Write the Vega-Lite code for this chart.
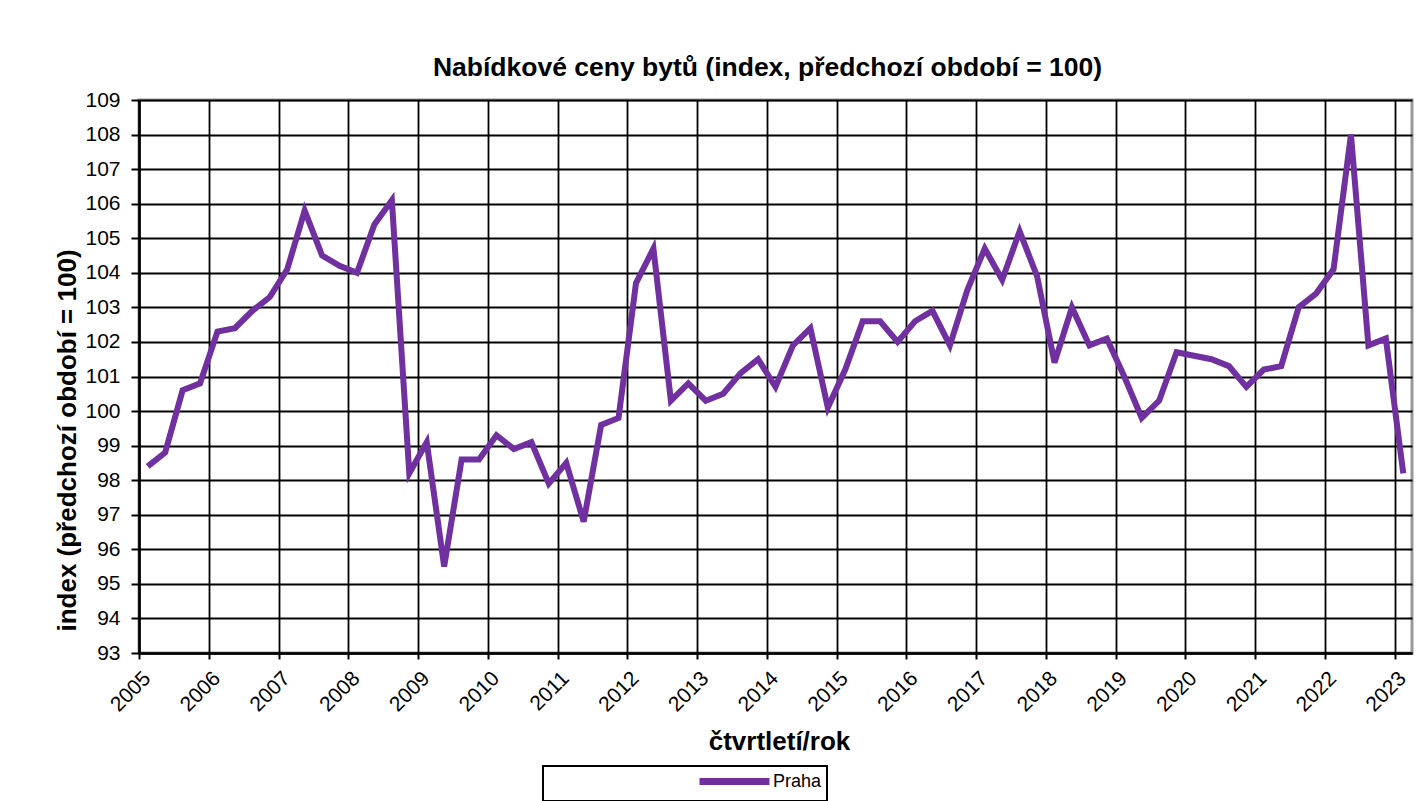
{
  "$schema": "https://vega.github.io/schema/vega-lite/v6.json",
  "width": 1273,
  "height": 553,
  "autosize": {"type": "none"},
  "padding": {"left": 139, "top": 100, "right": 14, "bottom": 148},
  "background": "white",
  "title": {
    "text": "Nabídkové ceny bytů (index, předchozí období = 100)",
    "font": "Liberation Sans",
    "fontSize": 26.5,
    "fontWeight": "bold",
    "color": "#000",
    "anchor": "middle",
    "dx": -8,
    "offset": 8
  },
  "data": {
    "values": [
      {"obdobi": "2005Q1", "t": 2005.125, "index": 98.4},
      {"obdobi": "2005Q2", "t": 2005.375, "index": 98.8},
      {"obdobi": "2005Q3", "t": 2005.625, "index": 100.6},
      {"obdobi": "2005Q4", "t": 2005.875, "index": 100.8},
      {"obdobi": "2006Q1", "t": 2006.125, "index": 102.3},
      {"obdobi": "2006Q2", "t": 2006.375, "index": 102.4},
      {"obdobi": "2006Q3", "t": 2006.625, "index": 102.9},
      {"obdobi": "2006Q4", "t": 2006.875, "index": 103.3},
      {"obdobi": "2007Q1", "t": 2007.125, "index": 104.1},
      {"obdobi": "2007Q2", "t": 2007.375, "index": 105.8},
      {"obdobi": "2007Q3", "t": 2007.625, "index": 104.5},
      {"obdobi": "2007Q4", "t": 2007.875, "index": 104.2},
      {"obdobi": "2008Q1", "t": 2008.125, "index": 104.0},
      {"obdobi": "2008Q2", "t": 2008.375, "index": 105.4},
      {"obdobi": "2008Q3", "t": 2008.625, "index": 106.1},
      {"obdobi": "2008Q4", "t": 2008.875, "index": 98.2},
      {"obdobi": "2009Q1", "t": 2009.125, "index": 99.1},
      {"obdobi": "2009Q2", "t": 2009.375, "index": 95.5},
      {"obdobi": "2009Q3", "t": 2009.625, "index": 98.6},
      {"obdobi": "2009Q4", "t": 2009.875, "index": 98.6},
      {"obdobi": "2010Q1", "t": 2010.125, "index": 99.3},
      {"obdobi": "2010Q2", "t": 2010.375, "index": 98.9},
      {"obdobi": "2010Q3", "t": 2010.625, "index": 99.1},
      {"obdobi": "2010Q4", "t": 2010.875, "index": 97.9},
      {"obdobi": "2011Q1", "t": 2011.125, "index": 98.5},
      {"obdobi": "2011Q2", "t": 2011.375, "index": 96.8},
      {"obdobi": "2011Q3", "t": 2011.625, "index": 99.6},
      {"obdobi": "2011Q4", "t": 2011.875, "index": 99.8},
      {"obdobi": "2012Q1", "t": 2012.125, "index": 103.7},
      {"obdobi": "2012Q2", "t": 2012.375, "index": 104.7},
      {"obdobi": "2012Q3", "t": 2012.625, "index": 100.3},
      {"obdobi": "2012Q4", "t": 2012.875, "index": 100.8},
      {"obdobi": "2013Q1", "t": 2013.125, "index": 100.3},
      {"obdobi": "2013Q2", "t": 2013.375, "index": 100.5},
      {"obdobi": "2013Q3", "t": 2013.625, "index": 101.1},
      {"obdobi": "2013Q4", "t": 2013.875, "index": 101.5},
      {"obdobi": "2014Q1", "t": 2014.125, "index": 100.7},
      {"obdobi": "2014Q2", "t": 2014.375, "index": 101.9},
      {"obdobi": "2014Q3", "t": 2014.625, "index": 102.4},
      {"obdobi": "2014Q4", "t": 2014.875, "index": 100.1},
      {"obdobi": "2015Q1", "t": 2015.125, "index": 101.2},
      {"obdobi": "2015Q2", "t": 2015.375, "index": 102.6},
      {"obdobi": "2015Q3", "t": 2015.625, "index": 102.6},
      {"obdobi": "2015Q4", "t": 2015.875, "index": 102.0},
      {"obdobi": "2016Q1", "t": 2016.125, "index": 102.6},
      {"obdobi": "2016Q2", "t": 2016.375, "index": 102.9},
      {"obdobi": "2016Q3", "t": 2016.625, "index": 101.9},
      {"obdobi": "2016Q4", "t": 2016.875, "index": 103.5},
      {"obdobi": "2017Q1", "t": 2017.125, "index": 104.7},
      {"obdobi": "2017Q2", "t": 2017.375, "index": 103.8},
      {"obdobi": "2017Q3", "t": 2017.625, "index": 105.2},
      {"obdobi": "2017Q4", "t": 2017.875, "index": 103.9},
      {"obdobi": "2018Q1", "t": 2018.125, "index": 101.4},
      {"obdobi": "2018Q2", "t": 2018.375, "index": 103.0},
      {"obdobi": "2018Q3", "t": 2018.625, "index": 101.9},
      {"obdobi": "2018Q4", "t": 2018.875, "index": 102.1},
      {"obdobi": "2019Q1", "t": 2019.125, "index": 101.0},
      {"obdobi": "2019Q2", "t": 2019.375, "index": 99.8},
      {"obdobi": "2019Q3", "t": 2019.625, "index": 100.3},
      {"obdobi": "2019Q4", "t": 2019.875, "index": 101.7},
      {"obdobi": "2020Q1", "t": 2020.125, "index": 101.6},
      {"obdobi": "2020Q2", "t": 2020.375, "index": 101.5},
      {"obdobi": "2020Q3", "t": 2020.625, "index": 101.3},
      {"obdobi": "2020Q4", "t": 2020.875, "index": 100.7},
      {"obdobi": "2021Q1", "t": 2021.125, "index": 101.2},
      {"obdobi": "2021Q2", "t": 2021.375, "index": 101.3},
      {"obdobi": "2021Q3", "t": 2021.625, "index": 103.0},
      {"obdobi": "2021Q4", "t": 2021.875, "index": 103.4},
      {"obdobi": "2022Q1", "t": 2022.125, "index": 104.1},
      {"obdobi": "2022Q2", "t": 2022.375, "index": 108.0},
      {"obdobi": "2022Q3", "t": 2022.625, "index": 101.9},
      {"obdobi": "2022Q4", "t": 2022.875, "index": 102.1},
      {"obdobi": "2023Q1", "t": 2023.125, "index": 98.2}
    ]
  },
  "mark": {"type": "line", "strokeWidth": 6, "strokeJoin": "miter"},
  "encoding": {
    "x": {
      "field": "t",
      "type": "quantitative",
      "scale": {"domain": [2005, 2023.25], "nice": false, "zero": false},
      "axis": {
        "values": [2005, 2006, 2007, 2008, 2009, 2010, 2011, 2012, 2013, 2014, 2015, 2016, 2017, 2018, 2019, 2020, 2021, 2022, 2023],
        "format": "d",
        "title": "čtvrtletí/rok",
        "labelAngle": -45,
        "labelAlign": "right",
        "labelBaseline": "middle",
        "labelFontSize": 21,
        "labelPadding": 16,
        "labelOffset": 8,
        "tickSize": 6,
        "titleX": 640,
        "titleY": 96,
        "titleAlign": "center",
        "titleBaseline": "alphabetic",
        "labelOverlap": false,
        "labelFlush": false
      }
    },
    "y": {
      "field": "index",
      "type": "quantitative",
      "scale": {"domain": [93, 109], "nice": false, "zero": false},
      "axis": {
        "values": [93, 94, 95, 96, 97, 98, 99, 100, 101, 102, 103, 104, 105, 106, 107, 108, 109],
        "title": "index (předchozí období = 100)",
        "labelFontSize": 21,
        "labelPadding": 11,
        "tickSize": 8,
        "titleX": -72,
        "titleY": 340,
        "titleAngle": -90,
        "titleAlign": "center",
        "titleBaseline": "middle",
        "labelOverlap": false,
        "labelFlush": false
      }
    },
    "color": {
      "datum": "Praha",
      "scale": {"range": ["#7030A0"]},
      "legend": {
        "title": null,
        "orient": "none",
        "legendX": 404,
        "legendY": 666,
        "padding": 5,
        "symbolType": "M-5,0H5",
        "symbolSize": 196,
        "symbolStrokeWidth": 7,
        "symbolStrokeColor": "#7030A0",
        "symbolOffset": 176,
        "labelOffset": 28,
        "labelFontSize": 18,
        "labelFont": "Liberation Sans",
        "labelColor": "#000",
        "strokeColor": "#000"
      }
    }
  },
  "config": {
    "view": {"stroke": "#999", "strokeWidth": 3},
    "axis": {
      "grid": true,
      "gridColor": "#000",
      "gridWidth": 1.8,
      "gridOpacity": 1,
      "domainColor": "#000",
      "domainWidth": 2.5,
      "tickColor": "#000",
      "tickWidth": 2,
      "labelColor": "#000",
      "labelFont": "Liberation Sans",
      "titleFont": "Liberation Sans",
      "titleFontWeight": "bold",
      "titleFontSize": 26,
      "titleColor": "#000"
    },
    "legend": {"strokeWidth": 2}
  }
}
